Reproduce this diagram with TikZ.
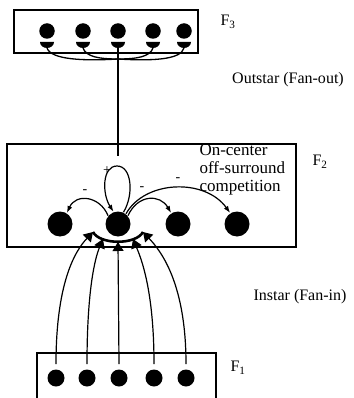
\documentclass[tikz,border=0pt]{standalone}
\usepackage{fontspec}
\setmainfont{Liberation Serif}
\usetikzlibrary{arrows.meta, positioning}

\begin{document}
\begin{tikzpicture}[x=1pt,y=-1pt, line width=1pt,
    every node/.style={font=\fontsize{16}{18}\selectfont},
    layer/.style={draw, rectangle, line width=1.2pt, inner sep=0pt},
    cellS/.style={circle, fill=black, inner sep=0pt, minimum size=15.5pt},
    cellM/.style={circle, fill=black, inner sep=0pt, minimum size=17pt},
    cellL/.style={circle, fill=black, inner sep=0pt, minimum size=25pt},
    sign/.style={font=\fontsize{14}{14}\selectfont, inner sep=0pt},
    fan/.style={line width=1.3pt},
    inhib/.style={line width=1.2pt, -{Latex[length=7pt,width=5pt]}},
    instar/.style={line width=1.2pt, -{Triangle[length=9pt,width=11pt]}}]
    \useasboundingbox (0,0) rectangle (353,398);

    \node[layer, minimum width=184pt, minimum height=43pt] (box3) at (106,31.5) {};
    \node[layer, minimum width=289pt, minimum height=103pt] (box2) at (151.5,195.5) {};
    \node[layer, minimum width=179pt, minimum height=60pt] (box1) at (126.5,383) {};

    \node[cellS] (f3a) at (47,31) {};
    \node[cellS] (f3b) at (83,31) {};
    \node[cellS] (f3c) at (118,31) {};
    \node[cellS] (f3d) at (153,31) {};
    \node[cellS] (f3e) at (184,31) {};
    \coordinate (o1) at (47,42);
    \coordinate (o2) at (83,42);
    \coordinate (o3) at (118,42);
    \coordinate (o4) at (153,42);
    \coordinate (o5) at (184,42);
    \foreach \o in {o1,o2,o3,o4,o5}
        \fill ([xshift=-7pt]\o) arc[start angle=180, end angle=360, x radius=7pt, y radius=6pt] -- cycle;
    \coordinate (hub) at (118,59);
    \coordinate (out) at (118,156);
    \draw[fan] ([yshift=-6pt]o1) .. controls (51,60) and (85,61) .. (hub);
    \draw[fan] ([yshift=-6pt]o2) .. controls (86,57) and (100,59) .. (hub);
    \draw[fan] ([yshift=-6pt]o4) .. controls (150,57) and (136,59) .. (hub);
    \draw[fan] ([yshift=-6pt]o5) .. controls (181,60) and (151,61) .. (hub);
    \draw[fan] (o3) -- (out);

    \node[cellL] (f2a) at (60,224) {};
    \node[cellL] (f2b) at (118,224) {};
    \node[cellL] (f2c) at (178,224) {};
    \node[cellL] (f2d) at (237,224) {};
    \draw[inhib] (f2b.65) .. controls (134,195) and (132,166) .. (117,166)
        .. controls (102,166) and (102,194) .. (f2b.110);
    \draw[inhib] (f2b.140) .. controls (100,196) and (76,193) .. (f2a.58);
    \draw[inhib] (f2b.40) .. controls (138,194) and (160,194) .. (f2c.122);
    \draw[inhib] (f2b.52) .. controls (145,180) and (205,178) .. (f2d.122);
    \node[sign] (pl) at (107,171) {+};
    \node[sign] (m1) at (85,192) {-};
    \node[sign] (m2) at (142,189) {-};
    \node[sign] (m3) at (178,180) {-};

    \node[cellM] (f1a) at (56,378) {};
    \node[cellM] (f1b) at (87,378) {};
    \node[cellM] (f1c) at (119,378) {};
    \node[cellM] (f1d) at (154,378) {};
    \node[cellM] (f1e) at (186,378) {};
    \coordinate (i1) at (93,232);
    \coordinate (i2) at (103,239);
    \coordinate (i3) at (118,242);
    \coordinate (i4) at (133,239);
    \coordinate (i5) at (143,232);
    \draw[line width=2.6pt] (i1) .. controls (100,245) and (136,245) .. (i5);
    \draw[instar] ([yshift=5pt]f1a.north) .. controls (56,285) and (74,252) .. (i1);
    \draw[instar] ([yshift=5pt]f1b.north) .. controls (87,290) and (95,258) .. (i2);
    \draw[instar] ([yshift=5pt]f1c.north) -- (i3);
    \draw[instar] ([yshift=5pt]f1d.north) .. controls (154,290) and (141,258) .. (i4);
    \draw[instar] ([yshift=5pt]f1e.north) .. controls (186,285) and (162,252) .. (i5);

    \node (lf3) at (228,22) {F\textsubscript{3}};
    \node (lout) at (288,80) {Outstar (Fan-out)};
    \node (lf2) at (320,162) {F\textsubscript{2}};
    \node[anchor=north west, align=left, inner sep=0pt, font=\fontsize{17}{18}\selectfont] (comp) at (199,144) {On-center\\off-surround\\competition};
    \node (lin) at (300,297) {Instar (Fan-in)};
    \node (lf1) at (238,368) {F\textsubscript{1}};
\end{tikzpicture}
\end{document}
